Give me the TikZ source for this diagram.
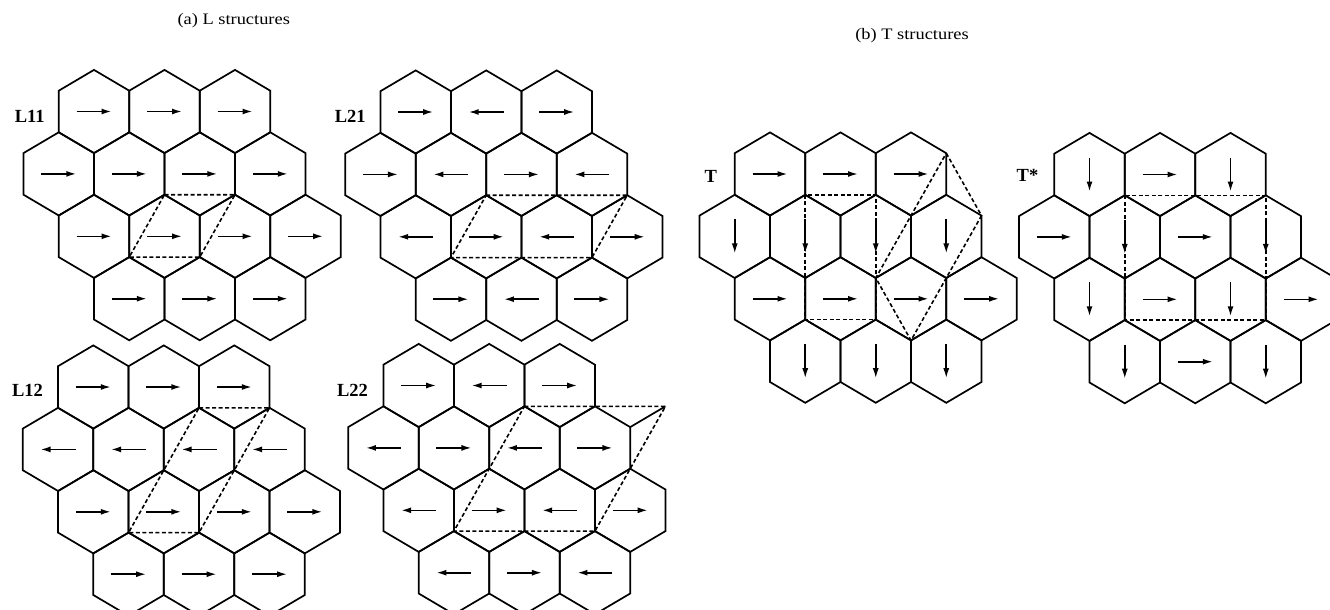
\documentclass[tikz,border=0pt]{standalone}
\usepackage{fontspec}
\setmainfont{Liberation Serif}
\newfontfamily\titlefont[FakeStretch=1.15]{Liberation Serif}
\usetikzlibrary{arrows.meta}
\tikzset{
  hexline/.style={line width=1.7pt, line join=miter},
  spin/.style={line width=1.6pt, -{Latex[length=10pt,width=6pt]}},
  cellline/.style={line width=1.6pt, dash pattern=on 4pt off 2.5pt},
  tag/.style={font=\fontsize{18.5}{19}\selectfont\bfseries, inner sep=0pt},
  title/.style={font=\titlefont\fontsize{16}{18}\selectfont, inner sep=0pt},
}
\newcommand\HexCell[3]{%
  \begin{scope}[shift={(#1,#2)}]
    \draw[hexline] (0,-41.6) -- (35.25,-20.8) -- (35.25,20.8) -- (0,41.6) -- (-35.25,20.8) -- (-35.25,-20.8) -- cycle;
    \if R#3\draw[spin] (-17.5,0) -- (17.5,0);\fi
    \if L#3\draw[spin] (17.5,0) -- (-17.5,0);\fi
    \if D#3\draw[spin] (0,-17) -- (0,17);\fi
  \end{scope}}
\newcommand\HexRow[3]{%
  \foreach \d [count=\i from 0] in {#3} {\HexCell{#1+\i*70.5}{#2}{\d}}}
\newcommand\HexCluster[6]{%
  \HexRow{#1}{#2}{#3}
  \HexRow{#1-35.25}{#2+62.4}{#4}
  \HexRow{#1}{#2+124.8}{#5}
  \HexRow{#1+35.25}{#2+187.2}{#6}}
\begin{document}
\begin{tikzpicture}[x=1pt,y=-1pt]
\useasboundingbox (0,0) rectangle (1330,610);
\clip (0,0) rectangle (1330,610);
\fill[white] (0,0) rectangle (1330,610);

\node[title] (ta) at (233.7,21) {(a) L structures};
\node[title] (tb) at (912,36) {(b) T structures};

% L11
\HexCluster{94}{111.5}{R,R,R}{R,R,R,R}{R,R,R,R}{R,R,R}
\node[tag] (l11) at (29.7,116) {L11};
\begin{scope}[shift={(94,111.5)}]
  \draw[cellline] (70.5,83.2) -- (141,83.2) -- (105.75,145.6) -- (35.25,145.6) -- cycle;
\end{scope}

% L21
\HexCluster{415.7}{112}{R,L,R}{R,L,R,L}{L,R,L,R}{R,L,R}
\node[tag] (l21) at (350.3,116.7) {L21};
\begin{scope}[shift={(415.7,112)}]
  \draw[cellline] (70.5,83.2) -- (211.5,83.2) -- (176.25,145.6) -- (35.25,145.6) -- cycle;
\end{scope}

% L12
\HexCluster{93.3}{387}{R,R,R}{L,L,L,L}{R,R,R,R}{R,R,R}
\node[tag] (l12) at (27.5,390) {L12};
\begin{scope}[shift={(93.3,387)}]
  \draw[cellline] (105.75,20.8) -- (176.25,20.8) -- (105.75,145.6) -- (35.25,145.6) -- cycle;
\end{scope}

% L22
\HexCluster{418.7}{385.5}{R,L,R}{L,R,L,R}{L,R,L,R}{L,R,L}
\node[tag] (l22) at (352.5,390) {L22};
\begin{scope}[shift={(418.7,385.5)}]
  \draw[hexline] (211.5,41.6) -- (246.75,20.8);
  \draw[cellline] (105.75,20.8) -- (246.75,20.8) -- (176.25,145.6) -- (35.25,145.6) -- cycle;
\end{scope}

% T
\HexCluster{770}{174}{R,R,R}{D,D,D,D}{R,R,R,R}{D,D,D}
\node[tag] (t) at (710.7,176) {T};
\begin{scope}[shift={(770,174)}]
  \draw[cellline] (35.25,20.8) rectangle (105.75,145.6);
  \draw[cellline] (176.25,-20.8) -- (211.5,41.6) -- (141,166.4) -- (105.75,104) -- cycle;
\end{scope}

% T*
\HexCluster{1089.5}{174.5}{D,R,D}{R,D,R,D}{D,R,D,R}{D,R,D}
\node[tag] (ts) at (1027.5,175) {T*};
\begin{scope}[shift={(1089.5,174.5)}]
  \draw[cellline] (35.25,20.8) rectangle (176.25,145.6);
\end{scope}
\end{tikzpicture}
\end{document}
